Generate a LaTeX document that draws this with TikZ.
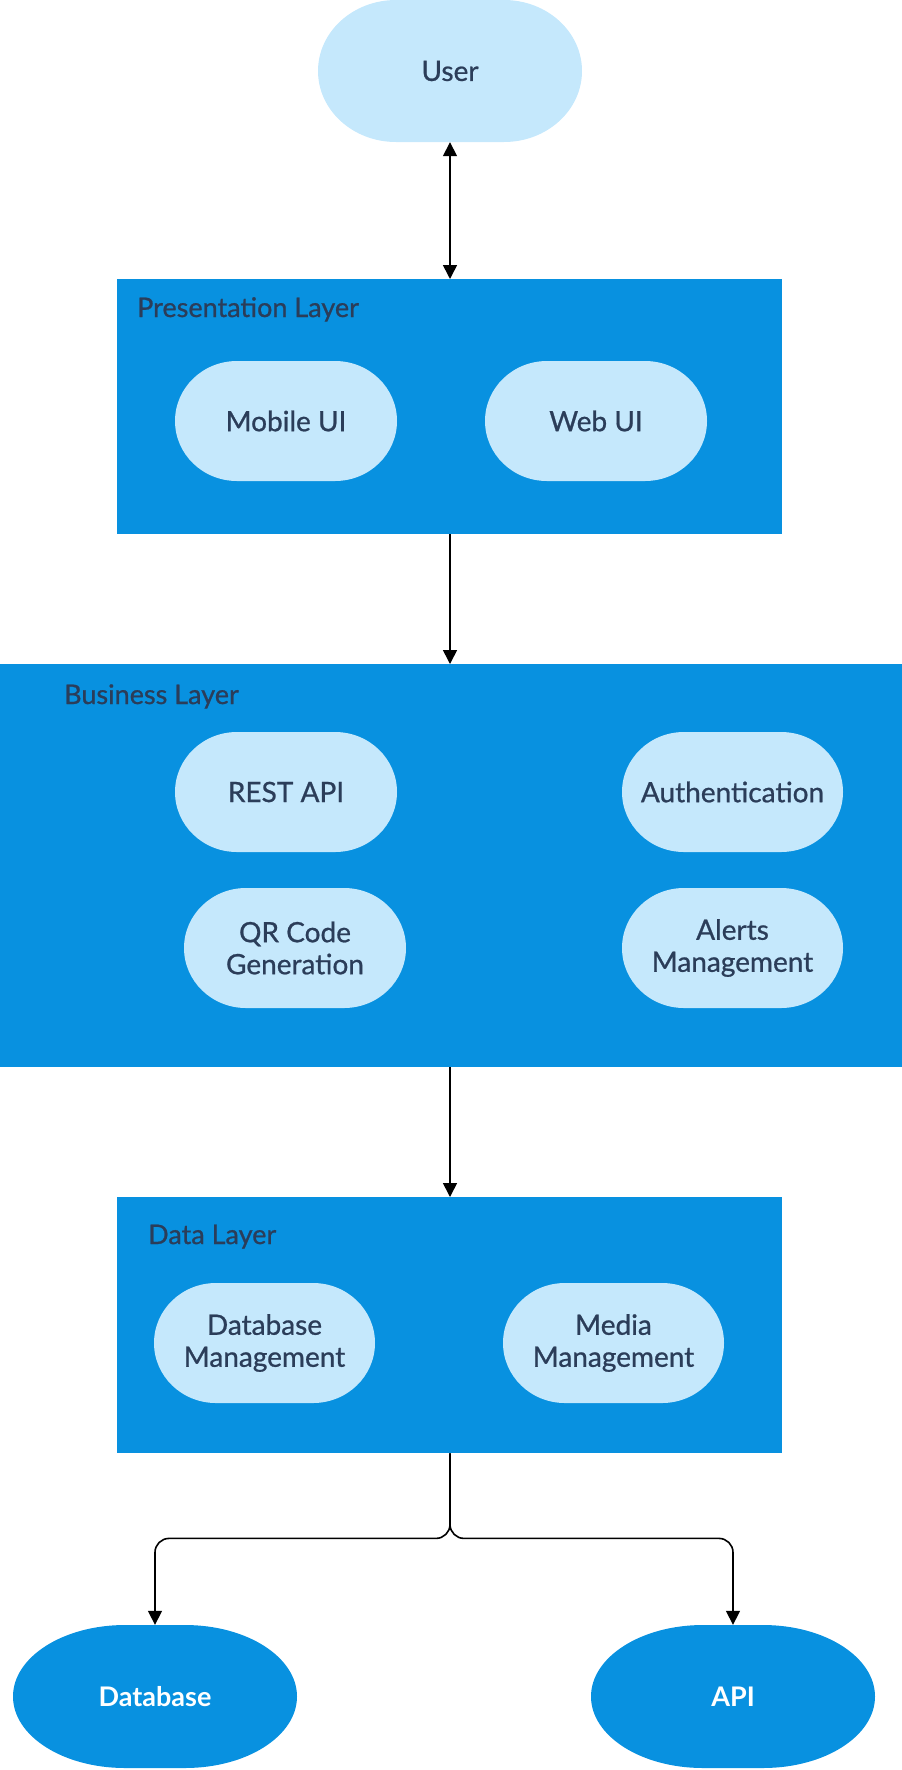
\documentclass[tikz,border=0pt]{standalone}
\usepackage{fontspec}
\setmainfont{Lato}
\newfontfamily\medfont{Lato}[FakeBold=0.8]
\usetikzlibrary{arrows.meta}
\definecolor{layerblue}{HTML}{0891E0}
\definecolor{pale}{HTML}{C5E8FC}
\definecolor{ink}{HTML}{2B3D59}
% #1 name, #2 fill, #3 x1, #4 ytop, #5 x2, #6 ybottom, #7 rx, #8 text style, #9 text
\newcommand\pillnode[9]{%
  \fill[#2] ({#3+#7},{-#6}) -- ({#5-#7},{-#6})
    arc[start angle=-90,end angle=90,x radius=#7,y radius={(#6-#4)/2}]
    -- ({#3+#7},{-#4})
    arc[start angle=90,end angle=270,x radius=#7,y radius={(#6-#4)/2}] -- cycle;
  \node[#8, minimum width={#5-#3}, minimum height={#6-#4}] (#1) at ({(#3+#5)/2},{-(#4+#6)/2}) {#9};
}
\begin{document}
\begin{tikzpicture}[x=1pt,y=1pt,
  txt/.style={font=\medfont\fontsize{28}{32}\selectfont, text=ink, align=center, inner sep=0pt},
  boldtxt/.style={font=\fontsize{27}{30}\selectfont\bfseries, text=white, align=center, inner sep=0pt},
  layer/.style={fill=layerblue, draw=none, anchor=north west, inner sep=0pt},
  lab/.style={font=\medfont\fontsize{27}{30}\selectfont, text=ink, anchor=base west, inner sep=0pt},
  conn/.style={line width=1.6pt, draw=black, -{Triangle[length=14pt,width=14pt]}},
  biconn/.style={line width=1.6pt, draw=black, {Triangle[length=14pt,width=14pt]}-{Triangle[length=14pt,width=14pt]}}]
\useasboundingbox (0,0) rectangle (902,-1770);

% layers
\node[layer, minimum width=665pt, minimum height=255pt] (pres) at (117,-279) {};
\node[lab] (preslab) at (137,-317) {Presentation Layer};
\node[layer, minimum width=902pt, minimum height=403pt] (bus) at (0,-664) {};
\node[lab] (buslab) at (64,-704) {Business Layer};
\node[layer, minimum width=665pt, minimum height=256pt] (data) at (117,-1197) {};
\node[lab] (datalab) at (148,-1244) {Data Layer};

% nodes
\pillnode{user}{pale}{318}{0}{582}{142}{78}{txt}{User}
\pillnode{mob}{pale}{175}{361}{397}{481}{62}{txt}{Mobile UI}
\pillnode{web}{pale}{485}{361}{707}{481}{62}{txt}{Web UI}
\pillnode{rest}{pale}{175}{732}{397}{852}{62}{txt}{REST API}
\pillnode{auth}{pale}{622}{732}{843}{852}{62}{txt}{Authentication}
\pillnode{qr}{pale}{184}{888}{406}{1008}{62}{txt}{QR Code\\Generation}
\pillnode{alert}{pale}{622}{888}{843}{1008}{62}{txt}{Alerts\\Management}
\pillnode{dbm}{pale}{154}{1283}{375}{1403}{62}{txt}{Database\\Management}
\pillnode{media}{pale}{503}{1283}{724}{1403}{62}{txt}{Media\\Management}
\pillnode{db}{layerblue}{13}{1625}{297}{1768}{112}{boldtxt}{Database}
\pillnode{api}{layerblue}{591}{1625}{875}{1768}{112}{boldtxt}{API}

% connectors
\draw[biconn] (user.south) -- (user.south |- pres.north);
\draw[conn] (pres.south -| user.south) -- (bus.north -| user.south);
\draw[conn] (bus.south -| user.south) -- (data.north -| user.south);
\coordinate (split) at ([yshift=-85pt]data.south -| user.south);
\draw[conn, rounded corners=14pt] (data.south -| user.south) -- (split) -| (db.north);
\draw[conn, rounded corners=14pt] (data.south -| user.south) -- (split) -| (api.north);
\end{tikzpicture}
\end{document}
